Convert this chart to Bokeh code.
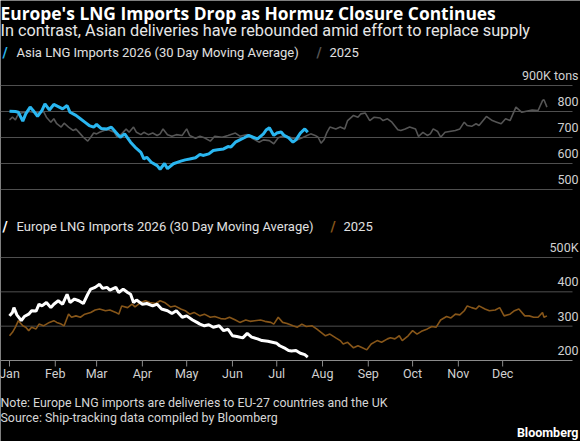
from bokeh.plotting import figure
from bokeh.models import Range1d, Label
from bokeh.embed import file_html
from bokeh.resources import INLINE

# ---------------- data ----------------
months = ["Jan", "Feb", "Mar", "Apr", "May", "Jun", "Jul", "Aug", "Sep", "Oct", "Nov", "Dec"]
month_start_day = [0, 31, 59, 90, 120, 151, 181, 212, 243, 273, 304, 334]

top_ticks = [500, 600, 700, 800, 900]
top_tick_labels = ["500", "600", "700", "800", "900K tons"]
bot_ticks = [200, 300, 400, 500]
bot_tick_labels = ["200", "300", "400", "500K"]

# Asia LNG imports 2026 (30-day MA), thousand tons; x = day of year
asia26_day = [0, 4, 6, 9, 11, 14, 16, 19, 22, 24, 27, 30, 33, 36, 39, 41, 45, 48, 51, 54, 57, 59, 62, 66,
              69, 72, 75, 78, 82, 85, 89, 91, 93, 96, 100, 102, 105, 107, 111, 116, 119, 122, 126, 129,
              131, 135, 138, 141, 145, 148, 150, 153, 156, 159, 162, 165, 168, 172, 174, 176, 179, 181,
              184, 186, 189, 192, 194, 197, 200, 202]
asia26_val = [801, 800, 797, 763, 791, 817, 804, 781, 804, 829, 806, 827, 819, 810, 823, 797, 785, 772, 759,
              746, 740, 750, 735, 733, 740, 720, 701, 714, 682, 663, 643, 618, 624, 605, 592, 578, 600, 580,
              599, 609, 614, 617, 622, 635, 631, 637, 650, 653, 656, 665, 663, 682, 691, 699, 708, 701, 695,
              714, 730, 737, 708, 717, 721, 708, 699, 682, 691, 717, 733, 720]

# Asia LNG imports 2025
asia25_day = [0, 2, 4, 6, 10, 13, 16, 20, 23, 25, 28, 30, 32, 35, 37, 40, 43, 45, 48, 50, 53, 55, 57, 59,
              61, 64, 67, 71, 73, 76, 79, 81, 84, 86, 89, 91, 94, 97, 100, 102, 104, 107, 110, 113, 117,
              120, 122, 126, 129, 132, 136, 139, 144, 148, 153, 156, 161, 165, 169, 172, 176, 179, 182,
              186, 190, 195, 199, 204, 207, 209, 211, 213, 215, 217, 221, 224, 227, 229, 233, 236, 238,
              241, 244, 247, 251, 253, 256, 259, 263, 265, 268, 271, 275, 277, 280, 283, 285, 287, 290,
              292, 295, 298, 302, 305, 308, 310, 313, 316, 318, 323, 327, 330, 333, 336, 339, 343, 347,
              350, 354, 358, 361, 362, 364]
asia25_val = [768, 778, 768, 791, 797, 801, 797, 794, 801, 778, 759, 772, 753, 740, 755, 740, 727, 733, 714,
              701, 686, 701, 717, 714, 720, 727, 730, 720, 701, 714, 733, 720, 740, 720, 711, 720, 711, 717,
              708, 714, 733, 711, 705, 711, 708, 733, 708, 697, 705, 699, 686, 705, 701, 708, 717, 705, 711,
              695, 682, 691, 688, 676, 699, 708, 701, 691, 701, 714, 708, 701, 678, 691, 720, 740, 733, 740,
              733, 765, 785, 778, 791, 794, 765, 778, 775, 765, 772, 759, 730, 727, 733, 740, 733, 704, 720,
              708, 714, 733, 723, 701, 720, 723, 727, 733, 759, 746, 743, 753, 746, 781, 765, 759, 753, 772,
              765, 817, 797, 801, 806, 804, 842, 845, 817]

# Europe LNG imports 2026 (30-day MA)
eu26_day = [0, 2, 3, 5, 8, 10, 13, 15, 18, 20, 22, 25, 28, 30, 33, 36, 39, 41, 44, 47, 50, 53, 55, 58, 61,
            63, 66, 68, 72, 74, 77, 80, 82, 84, 86, 90, 93, 97, 100, 103, 107, 110, 113, 117, 120, 124,
            127, 129, 132, 135, 138, 142, 145, 148, 151, 154, 158, 161, 164, 168, 171, 175, 178, 181, 183,
            186, 189, 191, 194, 197, 200, 202]
eu26_val = [330, 340, 354, 333, 316, 328, 335, 345, 344, 364, 359, 369, 354, 364, 374, 364, 393, 369, 379,
            374, 366, 393, 408, 413, 422, 410, 413, 405, 413, 398, 408, 398, 393, 369, 376, 364, 366, 359,
            364, 350, 345, 337, 345, 326, 330, 318, 311, 306, 301, 304, 297, 301, 287, 291, 272, 270, 266,
            279, 268, 263, 258, 256, 253, 250, 243, 237, 229, 228, 229, 221, 217, 210]

# Europe LNG imports 2025
eu25_day = [0, 2, 4, 6, 9, 11, 13, 15, 18, 20, 23, 27, 30, 32, 35, 37, 40, 42, 45, 48, 51, 55, 58, 61, 65,
            68, 72, 74, 76, 80, 83, 85, 89, 92, 95, 99, 102, 105, 109, 112, 116, 119, 122, 125, 129, 132,
            136, 139, 143, 146, 149, 153, 156, 160, 163, 166, 170, 173, 177, 179, 182, 185, 188, 192, 195,
            198, 201, 205, 208, 211, 214, 217, 221, 224, 226, 229, 233, 236, 239, 242, 245, 249, 252, 256,
            258, 261, 264, 266, 270, 273, 276, 279, 283, 286, 289, 292, 296, 299, 302, 305, 308, 310, 313,
            316, 318, 322, 325, 329, 332, 335, 339, 342, 345, 349, 352, 355, 358, 361, 362, 364]
eu25_val = [272, 282, 297, 316, 301, 297, 287, 297, 292, 306, 301, 311, 316, 311, 306, 301, 335, 326, 330,
            326, 335, 340, 347, 350, 345, 347, 340, 335, 359, 354, 364, 356, 369, 374, 369, 366, 374, 369,
            356, 359, 350, 345, 335, 340, 330, 335, 326, 328, 322, 321, 326, 318, 311, 318, 314, 316, 318,
            314, 311, 306, 326, 311, 308, 301, 297, 306, 299, 301, 292, 282, 272, 277, 266, 258, 248, 253,
            237, 243, 237, 231, 248, 258, 253, 263, 266, 263, 272, 258, 272, 287, 277, 285, 292, 299, 297,
            318, 328, 324, 335, 333, 345, 359, 354, 350, 359, 350, 345, 347, 354, 330, 335, 345, 350, 330,
            330, 326, 326, 340, 326, 330]

# ---------------- layout geometry (pixels) ----------------
W, H = 580, 441
X0_PX, PX_PER_DAY = 9.0, 1.4765      # Jan 1 at x=9px
GRID_RIGHT_PX = 572
TOP_V, TOP_PX, TOP_PPU = 900, 85, 26 / 100       # 900 line at y=85px
BOT_V, BOT_PX, BOT_PPU = 500, 257, 103 / 300     # 500 line at y=257px

def day_at(px):
    return (px - X0_PX) / PX_PER_DAY

def vrange(v_hi, px_hi, ppu):
    return Range1d(v_hi - (H - px_hi) / ppu, v_hi + px_hi / ppu)

BG = "#000000"
GRID = "#4f4f4f"
AXIS = "#8a8a8a"
BLUE = "#29b6f0"
GREY25 = "#555555"
WHITE = "#ffffff"
BROWN = "#875619"
FONT = "Roboto"

p = figure(width=W, height=H, x_range=Range1d(day_at(0), day_at(W)),
           y_range=vrange(TOP_V, TOP_PX, TOP_PPU),
           x_axis_location=None, y_axis_location=None,
           output_backend="svg", toolbar_location=None, min_border=0)
p.extra_y_ranges = {"bot": vrange(BOT_V, BOT_PX, BOT_PPU)}
p.grid.visible = False
p.outline_line_color = None
p.background_fill_color = BG
p.border_fill_color = BG

# gridlines
p.segment(x0=day_at(0), x1=day_at(GRID_RIGHT_PX), y0=top_ticks, y1=top_ticks,
          line_color=GRID, line_width=1)
p.segment(x0=day_at(0), x1=day_at(GRID_RIGHT_PX), y0=bot_ticks[1:], y1=bot_ticks[1:],
          line_color=GRID, line_width=1, y_range_name="bot")
p.segment(x0=day_at(0), x1=day_at(GRID_RIGHT_PX), y0=bot_ticks[0], y1=bot_ticks[0],
          line_color=AXIS, line_width=1, y_range_name="bot")
# month ticks
p.segment(x0=month_start_day, x1=month_start_day, y0=bot_ticks[0],
          y1=bot_ticks[0] - 6 / BOT_PPU, line_color=AXIS, line_width=1, y_range_name="bot")

# tick labels
p.text(x=day_at(578), y=top_ticks, text=top_tick_labels, text_align="right",
       text_baseline="middle", y_offset=-10, text_color="#d0d0d0",
       text_font_size="12.5px", text_font={"value": FONT})
p.text(x=day_at(578), y=bot_ticks, text=bot_tick_labels, text_align="right",
       text_baseline="middle", y_offset=-10, text_color="#d0d0d0",
       text_font_size="12.5px", text_font={"value": FONT}, y_range_name="bot")
p.text(x=month_start_day, y=bot_ticks[0], text=months, text_align="center",
       text_baseline="middle", y_offset=13, text_color="#d0d0d0",
       text_font_size="12.5px", text_font={"value": FONT}, y_range_name="bot")

# series
p.line(asia25_day, asia25_val, line_color=GREY25, line_width=1.6)
p.line(asia26_day, asia26_val, line_color=BLUE, line_width=3)
p.line(eu25_day, eu25_val, line_color=BROWN, line_width=1.6, y_range_name="bot")
p.line(eu26_day, eu26_val, line_color=WHITE, line_width=3, y_range_name="bot")

def lab(x, y_from_top, text, size, color="#e0e0e0", bold=False, align="left", font=FONT):
    p.add_layout(Label(x=x, y=H - y_from_top, x_units="screen", y_units="screen", text=text,
                       text_font=font, text_font_size=size, text_color=color,
                       text_font_style="bold" if bold else "normal",
                       text_align=align, text_baseline="middle"))

lab(0, 12, "Europe's LNG Imports Drop as Hormuz Closure Continues", "17.4px", "#ffffff",
    bold=True, font="Open Sans")
lab(0, 30, "In contrast, Asian deliveries have rebounded amid effort to replace supply", "16.3px", "#e6e6e6")
# legends
lab(2, 52, "/", "14px", BLUE, bold=True)
lab(16, 52, "Asia LNG Imports 2026 (30 Day Moving Average)", "13px")
lab(316, 52, "/", "14px", GREY25, bold=True)
lab(329, 52, "2025", "13px")
lab(2, 226, "/", "14px", WHITE, bold=True)
lab(16, 226, "Europe LNG Imports 2026 (30 Day Moving Average)", "13px")
lab(330, 226, "/", "14px", BROWN, bold=True)
lab(343, 226, "2025", "13px")
# footer
lab(0, 402, "Note: Europe LNG imports are deliveries to EU-27 countries and the UK", "12.4px", "#d6d6d6")
lab(0, 417, "Source: Ship-tracking data compiled by Bloomberg", "12.4px", "#d6d6d6")
lab(578, 432, "Bloomberg", "12.5px", "#ffffff", bold=True, align="right")

open("out.html", "w").write(file_html(p, INLINE))
